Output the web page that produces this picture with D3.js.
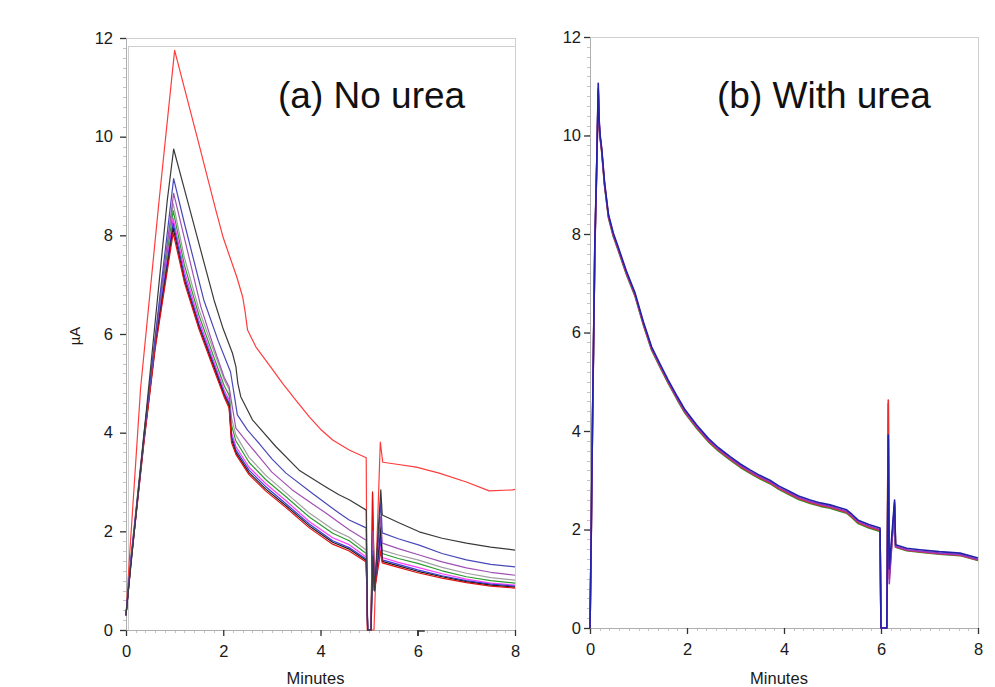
<!DOCTYPE html>
<html><head><meta charset="utf-8">
<script src="https://cdn.jsdelivr.net/npm/d3@7"></script>
<style>
html,body{margin:0;padding:0;background:#fff;}
svg{display:block;font-family:"Liberation Sans",Arial,sans-serif;}
</style></head>
<body><svg id="c" width="995" height="687"></svg>
<script>
// ---------- DATA ----------
const xTicks = [0, 2, 4, 6, 8];
const yTicks = [0, 2, 4, 6, 8, 10, 12];

// Panel (a) No urea: individual traces [minutes, µA]
const aRedTop = [[0,0.3],[0.08,1.6],[0.3,4.9],[0.68,8.7],[1.0,11.75],[1.5,9.85],[1.85,8.5],[2.0,7.95],[2.28,7.15],[2.4,6.75],[2.45,6.45],[2.5,6.08],[2.67,5.74],[3.0,5.3],[3.22,5.0],[3.5,4.65],[3.77,4.32],[4.0,4.07],[4.25,3.85],[4.59,3.65],[4.94,3.49],[4.96,0],[5.1,0],[5.23,3.81],[5.28,3.4],[5.5,3.37],[5.97,3.3],[6.44,3.18],[7.0,3.0],[7.47,2.82],[7.95,2.84],[8.0,2.85]];
const aBlack = [[0,0.3],[0.1,1.3],[0.44,4.66],[0.85,8.72],[0.98,9.75],[1.3,8.57],[1.81,6.69],[2.0,6.1],[2.19,5.61],[2.26,5.34],[2.3,5.0],[2.36,4.73],[2.6,4.26],[3.08,3.72],[3.56,3.24],[4.11,2.9],[4.38,2.74],[4.59,2.64],[4.94,2.43],[4.97,0],[5.04,0],[5.08,1.5],[5.11,0.8],[5.24,2.84],[5.27,2.33],[5.6,2.18],[6.03,1.99],[6.5,1.86],[7.0,1.76],[7.5,1.68],[8.0,1.62]];
const aBlue = [[0,0.3],[0.1,1.35],[0.4,4.2],[0.7,6.8],[0.98,9.15],[1.2,8.25],[1.6,6.69],[1.9,5.85],[2.15,5.23],[2.22,4.8],[2.29,4.36],[2.5,4.05],[2.74,3.78],[3.0,3.47],[3.29,3.18],[3.83,2.77],[4.38,2.37],[4.59,2.23],[4.94,2.07],[4.97,0],[5.04,0],[5.08,1.6],[5.11,0.8],[5.24,2.6],[5.27,1.97],[5.6,1.85],[6.03,1.72],[6.5,1.55],[7.0,1.42],[7.5,1.33],[8.0,1.28]];
const aPurple = [[0,0.3],[0.1,1.4],[0.38,4.0],[0.65,6.3],[0.98,8.85],[1.2,7.95],[1.54,6.55],[1.8,5.75],[2.02,5.12],[2.12,4.93],[2.19,4.5],[2.26,4.09],[2.53,3.76],[2.74,3.51],[3.0,3.2],[3.42,2.84],[3.77,2.6],[4.11,2.37],[4.38,2.18],[4.59,2.03],[4.94,1.82],[4.97,0],[5.04,0],[5.08,2.0],[5.11,0.9],[5.24,2.3],[5.27,1.76],[5.6,1.65],[6.03,1.52],[6.5,1.38],[7.0,1.26],[7.5,1.17],[8.0,1.11]];

// lower cluster of traces share these time points
const clusterX = [0,0.1,0.37,0.6,0.97,1.2,1.5,1.8,2.02,2.12,2.17,2.26,2.53,2.87,3.29,3.77,4.25,4.59,4.94,4.97,5.04,5.07,5.11,5.24,5.27,5.6,6.0,6.5,7.0,7.5,8.0];
const aGray    = [0.3,1.45,4.0,5.9,8.65,7.55,6.5,5.67,5.07,4.88,4.3,3.95,3.5,3.14,2.78,2.37,2.04,1.88,1.62,0,0,2.2,0.9,2.0,1.62,1.52,1.42,1.27,1.15,1.06,1.01];
const aGreen   = [0.3,1.45,3.95,5.85,8.5,7.4,6.38,5.55,4.95,4.76,4.15,3.83,3.4,3.05,2.7,2.29,1.96,1.81,1.55,0,0,2.78,0.8,1.8,1.55,1.45,1.35,1.2,1.08,1.0,0.95];
const aMagenta = [0.3,1.4,3.9,5.8,8.35,7.28,6.28,5.46,4.86,4.66,4.0,3.72,3.3,2.97,2.62,2.2,1.87,1.73,1.48,0,0,2.3,0.8,1.7,1.47,1.37,1.27,1.14,1.03,0.95,0.91];
const aBlue2   = [0.3,1.4,3.87,5.8,8.25,7.18,6.2,5.4,4.8,4.6,3.93,3.65,3.24,2.91,2.56,2.15,1.81,1.67,1.44,0,0,1.9,0.8,1.9,1.42,1.33,1.22,1.1,1.0,0.93,0.89];
const aBlack2  = [0.3,1.35,3.85,5.75,8.15,7.1,6.15,5.35,4.76,4.55,3.87,3.6,3.19,2.86,2.52,2.11,1.78,1.64,1.41,0,0,2.0,0.8,2.1,1.39,1.3,1.19,1.08,0.98,0.91,0.87];
const aRed2    = [0.3,1.35,3.8,5.7,8.05,7.05,6.1,5.3,4.72,4.5,3.8,3.56,3.15,2.82,2.48,2.07,1.74,1.6,1.38,0,0,2.8,0.8,1.6,1.36,1.27,1.16,1.05,0.96,0.89,0.85];

// Panel (b) With urea: traces share time points
const bX      = [0,0.02,0.05,0.1,0.14,0.17,0.19,0.21,0.24,0.3,0.38,0.48,0.58,0.75,0.93,1.1,1.27,1.45,1.61,1.8,1.96,2.2,2.44,2.65,2.89,3.1,3.3,3.5,3.71,3.9,4.12,4.3,4.54,4.75,4.95,5.15,5.29,5.4,5.53,5.75,5.98,6.0,6.12,6.15,6.17,6.28,6.3,6.53,6.8,7.2,7.63,8.0];
const bBlue   = [0,1.5,4.1,7.8,9.5,11.06,10.3,10.0,9.75,9.05,8.4,8.02,7.74,7.25,6.8,6.22,5.71,5.35,5.04,4.7,4.43,4.12,3.85,3.66,3.48,3.33,3.21,3.1,3.0,2.88,2.77,2.68,2.6,2.54,2.5,2.44,2.4,2.31,2.19,2.1,2.03,0,0,3.92,1.2,2.6,1.69,1.62,1.59,1.55,1.52,1.42];
const bPurple = [0,1.45,4.05,7.75,9.45,10.95,10.25,9.97,9.72,9.02,8.37,7.99,7.71,7.22,6.77,6.19,5.68,5.32,5.01,4.67,4.4,4.09,3.82,3.63,3.45,3.3,3.18,3.07,2.97,2.85,2.74,2.65,2.57,2.51,2.47,2.41,2.37,2.28,2.16,2.07,2.0,0,0,3.85,0.9,2.55,1.66,1.59,1.56,1.52,1.49,1.39];
const bRed    = [0,1.4,4.0,7.7,9.4,10.9,10.2,9.95,9.7,9.0,8.35,7.97,7.69,7.2,6.75,6.17,5.66,5.3,4.99,4.65,4.38,4.07,3.8,3.61,3.43,3.28,3.16,3.05,2.95,2.83,2.72,2.63,2.55,2.49,2.45,2.39,2.35,2.26,2.14,2.05,1.98,0,0,4.63,1.0,2.5,1.65,1.58,1.55,1.51,1.48,1.38];
const bGreen  = [0,1.45,4.05,7.75,9.45,10.9,10.2,9.93,9.68,8.98,8.33,7.95,7.67,7.18,6.73,6.15,5.64,5.28,4.97,4.63,4.36,4.05,3.78,3.59,3.41,3.26,3.14,3.03,2.93,2.81,2.7,2.61,2.53,2.47,2.43,2.37,2.33,2.24,2.12,2.03,1.96,0,0,4.55,1.1,2.45,1.64,1.57,1.54,1.5,1.47,1.37];

// ---------- DRAW ----------
const svg = d3.select("#c");
const zip = (xs, ys) => xs.map((x, i) => [x, ys[i]]).filter(d => d[1] !== undefined);

function panel(cfg) {
  const x = d3.scaleLinear().domain([0, 8]).range([cfg.x0, cfg.x1]);
  const y = d3.scaleLinear().domain([0, 12]).range([cfg.y0, cfg.y1]);
  const g = svg.append("g");

  // frame
  const frame = g.append("g").attr("stroke", "#cfcfcf").attr("fill", "none").attr("stroke-width", 1);
  frame.append("line").attr("x1", cfg.x0).attr("x2", cfg.x1 + 0.5).attr("y1", cfg.y1 + 0.5).attr("y2", cfg.y1 + 0.5);
  frame.append("line").attr("x1", cfg.x1 + 0.5).attr("x2", cfg.x1 + 0.5).attr("y1", cfg.y1).attr("y2", cfg.y0);
  if (cfg.inner) {
    frame.append("rect").attr("x", cfg.x0 + 2.5).attr("y", cfg.inner + 0.5)
      .attr("width", cfg.x1 - cfg.x0 - 2).attr("height", cfg.y0 - cfg.inner);
  }

  // minor ticks
  const minor = g.append("g").attr("stroke", "#c4c4c4").attr("stroke-width", 1);
  d3.range(0, 8.001, 0.2).forEach(v => {
    minor.append("line").attr("x1", Math.round(x(v)) + 0.5).attr("x2", Math.round(x(v)) + 0.5)
      .attr("y1", cfg.y0).attr("y2", cfg.y0 + 3);
  });
  d3.range(0, 12.001, 0.2).forEach(v => {
    minor.append("line").attr("x1", cfg.x0 - 3).attr("x2", cfg.x0)
      .attr("y1", Math.round(y(v)) + 0.5).attr("y2", Math.round(y(v)) + 0.5);
  });

  // axes
  const ax = g.append("g").attr("transform", `translate(0,${cfg.y0})`)
    .call(d3.axisBottom(x).tickValues(xTicks).tickFormat(d3.format("d")).tickSize(6).tickPadding(9).tickSizeOuter(0));
  const ay = g.append("g").attr("transform", `translate(${cfg.x0},0)`)
    .call(d3.axisLeft(y).tickValues(yTicks).tickFormat(d3.format("d")).tickSize(6).tickPadding(cfg.ypad).tickSizeOuter(0));
  [ax, ay].forEach(a => {
    a.select(".domain").attr("stroke", "#b0b0b0");
    a.selectAll(".tick line").attr("stroke", "#333").attr("stroke-width", 1.3);
    a.selectAll(".tick text").attr("font-size", 16.5).attr("fill", "#1a1a1a")
      .attr("font-family", "Liberation Sans, Arial, sans-serif");
  });

  // traces
  const line = d3.line().x(d => x(d[0])).y(d => y(d[1]));
  const tg = g.append("g").attr("fill", "none").attr("stroke-linejoin", "round");
  cfg.series.forEach(s => {
    tg.append("path").datum(s.data).attr("d", line)
      .attr("stroke", s.color).attr("stroke-width", s.w || 1.2).attr("opacity", s.op || 1);
  });

  // labels
  g.append("text").attr("x", (cfg.x0 + cfg.x1) / 2 - 5).attr("y", 684).attr("text-anchor", "middle")
    .attr("font-size", 16.5).attr("fill", "#1a1a1a").text("Minutes");
  g.append("text").attr("x", cfg.tx).attr("y", 108).attr("font-size", 37).attr("fill", "#111").text(cfg.title);
  return {x, y, g};
}

const pa = panel({
  x0: 126, x1: 515, y0: 630, y1: 38, inner: 46, ypad: 7, tx: 278, title: "(a) No urea",
  series: [
    {data: aRedTop, color: "#ff3c3c"},
    {data: zip(clusterX, aGray), color: "#a0a0a0"},
    {data: zip(clusterX, aGreen), color: "#2f9a2f"},
    {data: zip(clusterX, aMagenta), color: "#ff3cff"},
    {data: zip(clusterX, aBlue2), color: "#3a3ae6"},
    {data: zip(clusterX, aBlack2), color: "#1e1e1e"},
    {data: zip(clusterX, aRed2), color: "#e01010"},
    {data: aPurple, color: "#a050b4"},
    {data: aBlue, color: "#4848b8"},
    {data: aBlack, color: "#3a3a3a"}
  ]
});
// small corner mark on the lower axis near 6 min
pa.g.append("path").attr("d", `M${pa.x(6)},${pa.y(0) + 6}V${pa.y(0) + 1}H${pa.x(6) + 7}`)
  .attr("fill", "none").attr("stroke", "#333").attr("stroke-width", 1.3);

panel({
  x0: 590, x1: 978, y0: 628, y1: 37, inner: null, ypad: 3, tx: 717, title: "(b) With urea",
  series: [
    {data: zip(bX, bGreen), color: "#2e8b2e", w: 1.6},
    {data: zip(bX, bRed), color: "#e83030", w: 1.6},
    {data: zip(bX, bPurple), color: "#9a36c8", w: 1.6},
    {data: zip(bX, bBlue), color: "#2222a8", w: 1.6}
  ]
});

// y-axis unit label
svg.append("text").attr("transform", "translate(80,336) rotate(-90)").attr("text-anchor", "middle")
  .attr("font-size", 15).attr("fill", "#1a1a1a").text("µA");
</script>
</body></html>
